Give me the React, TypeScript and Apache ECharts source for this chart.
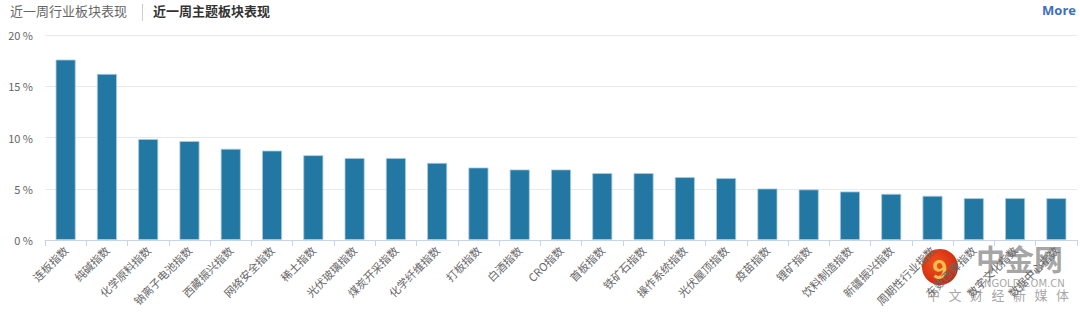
import React, { useEffect, useRef } from "react";
import * as echarts from "echarts";

const categories = [
  "连板指数", "纯碱指数", "化学原料指数", "钠离子电池指数", "西藏振兴指数",
  "网络安全指数", "稀土指数", "光伏玻璃指数", "煤炭开采指数", "化学纤维指数",
  "打板指数", "白酒指数", "CRO指数", "首板指数", "铁矿石指数",
  "操作系统指数", "光伏屋顶指数", "疫苗指数", "锂矿指数", "饮料制造指数",
  "新疆振兴指数", "周期性行业指数", "东数西算指数", "数字文化指数", "数据中心指数",
];
const values = [
  17.6, 16.2, 9.85, 9.65, 8.9,
  8.72, 8.27, 8.0, 8.0, 7.52,
  7.07, 6.88, 6.88, 6.52, 6.52,
  6.13, 6.03, 5.02, 4.93, 4.73,
  4.5, 4.31, 4.08, 4.08, 4.08,
];
const yTicks = [0, 5, 10, 15, 20];

const FONT = "'Noto Sans CJK SC', 'Noto Sans', sans-serif";
const wmChars = ["中", "文", "财", "经", "新", "媒", "体"];

export default function App() {
  const ref = useRef<HTMLDivElement>(null);
  useEffect(() => {
    if (!ref.current) return;
    const chart = echarts.init(ref.current, null, { renderer: "svg" });
    chart.setOption({
      animation: false,
      grid: { left: 45, right: 3, top: 35, bottom: 73 },
      xAxis: {
        type: "category",
        data: categories,
        axisLine: { lineStyle: { color: "#c9d4e8" } },
        axisTick: { show: true, length: 6, lineStyle: { color: "#c9d4e8" } },
        axisLabel: {
          rotate: 45,
          interval: 0,
          color: "#666",
          fontSize: 11,
          fontFamily: FONT,
          margin: 8,
        },
      },
      yAxis: {
        type: "value",
        min: yTicks[0],
        max: yTicks[yTicks.length - 1],
        interval: 5,
        axisLine: { show: false },
        axisTick: { show: false },
        splitLine: { lineStyle: { color: "#e9e9e9" } },
        axisLabel: {
          formatter: "{value} %",
          color: "#666",
          fontSize: 11,
          fontFamily: FONT,
          margin: 12,
        },
      },
      series: [
        {
          type: "bar",
          data: values,
          barWidth: 20,
          itemStyle: {
            color: "#2277a3",
            borderColor: "#a9cbe0",
            borderWidth: 0.8,
          },
        },
      ],
      graphic: [
        {
          type: "text",
          left: 10,
          top: 4,
          style: { text: "近一周行业板块表现", fill: "#666", font: `13px ${FONT}` },
        },
        {
          type: "rect",
          shape: { x: 142, y: 4, width: 1, height: 17 },
          style: { fill: "#ccc" },
        },
        {
          type: "text",
          left: 153,
          top: 4,
          style: { text: "近一周主题板块表现", fill: "#333", font: `bold 13px ${FONT}` },
        },
        {
          type: "text",
          right: 4,
          top: 3,
          style: { text: "More", fill: "#3b6fc2", font: `bold 13px 'Open Sans', sans-serif` },
        },
        {
          type: "group",
          z: 100,
          children: [
            {
              type: "circle",
              shape: { cx: 940, cy: 267, r: 18 },
              style: {
                fill: new echarts.graphic.RadialGradient(0.4, 0.4, 0.7, [
                  { offset: 0, color: "#f0521e" },
                  { offset: 1, color: "#c9250e" },
                ]),
              },
            },
            {
              type: "text",
              x: 940,
              y: 267,
              style: {
                text: "9",
                fill: "#f7c04a",
                font: `bold 26px ${FONT}`,
                align: "center",
                verticalAlign: "middle",
              },
            },
            {
              type: "text",
              x: 976,
              y: 243,
              style: {
                text: "中金网",
                fill: "rgba(150,150,150,0.85)",
                font: `bold 29px ${FONT}`,
              },
            },
            {
              type: "text",
              x: 977,
              y: 278,
              style: {
                text: "CNGOLD.COM.CN",
                fill: "rgba(150,150,150,0.85)",
                font: `10px 'DejaVu Sans', sans-serif`,
              },
            },
            ...wmChars.map((c, i) => ({
              type: "text",
              x: 927 + i * 21.5,
              y: 288,
              style: {
                text: c,
                fill: "rgba(150,150,150,0.85)",
                font: `13px ${FONT}`,
              },
            })),
          ],
        },
      ],
    });
    return () => chart.dispose();
  }, []);
  return (
    <div
      ref={ref}
      style={{ position: "fixed", left: 0, top: 0, width: 1080, height: 313, background: "#fff" }}
    />
  );
}
